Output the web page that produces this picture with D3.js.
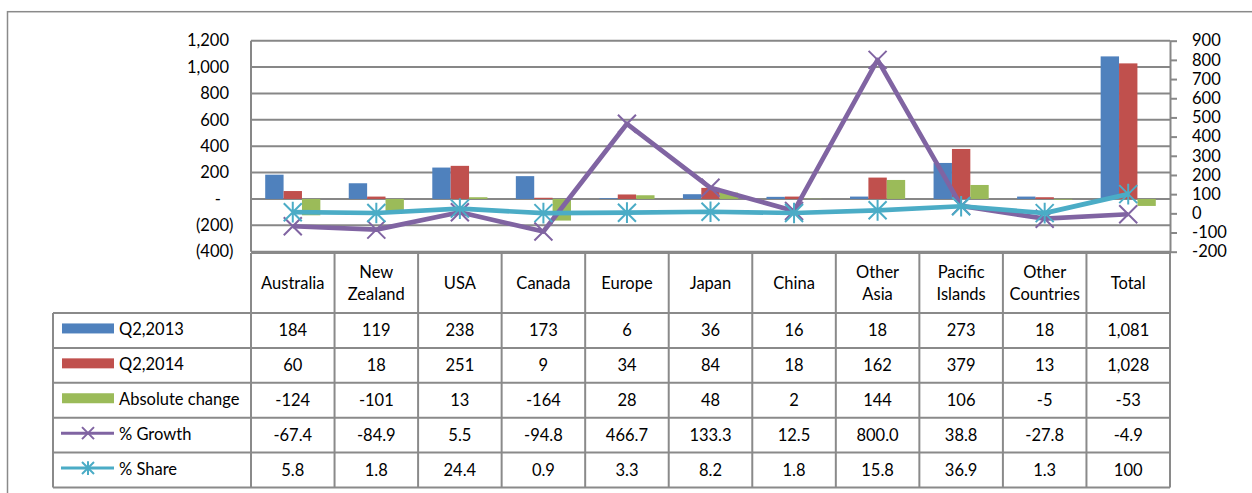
<!DOCTYPE html>
<html>
<head>
<meta charset="utf-8">
<script src="https://cdn.jsdelivr.net/npm/d3@7"></script>
<style>
  html, body { margin: 0; padding: 0; background: #fff; }
  svg { display: block; font-family: Lato, "Open Sans", sans-serif; }
</style>
</head>
<body>
<svg id="chart" width="1252" height="493"></svg>
<script>
// ---------------- DATA ----------------
const categories = ["Australia", "New Zealand", "USA", "Canada", "Europe", "Japan", "China",
                    "Other Asia", "Pacific Islands", "Other Countries", "Total"];
const q2013    = [184, 119, 238, 173, 6, 36, 16, 18, 273, 18, 1081];
const q2014    = [60, 18, 251, 9, 34, 84, 18, 162, 379, 13, 1028];
const absChange = [-124, -101, 13, -164, 28, 48, 2, 144, 106, -5, -53];
const growth   = [-67.4, -84.9, 5.5, -94.8, 466.7, 133.3, 12.5, 800.0, 38.8, -27.8, -4.9];
const share    = [5.8, 1.8, 24.4, 0.9, 3.3, 8.2, 1.8, 15.8, 36.9, 1.3, 100];
const seriesNames = ["Q2,2013", "Q2,2014", "Absolute change", "% Growth", "% Share"];
const leftTicks  = [-400, -200, 0, 200, 400, 600, 800, 1000, 1200];
const rightTicks = [-200, -100, 0, 100, 200, 300, 400, 500, 600, 700, 800, 900];

// ---------------- LAYOUT ----------------
const svg = d3.select("#chart");
const plot = { left: 251, right: 1170, top: 40.7, bottom: 251.7 };
const tbl = { legendLeft: 53, headTop: 253, headBottom: 313, rowH: 34.9 };
const colors = { q13: "#4F81BD", q14: "#C0504D", abs: "#9BBB59", growth: "#8064A2", share: "#4BACC6" };
const gridColor = "#878787";
const fontSize = 16.5;
const hy = s => s.replace(/\u2212/g, "-");

// outer frame
svg.append("rect").attr("x", 7.5).attr("y", 11.7).attr("width", 1300).attr("height", 600)
  .attr("fill", "none").attr("stroke", "#8a8a8a").attr("stroke-width", 1.5);

const x = d3.scaleBand().domain(categories).range([plot.left, plot.right]).padding(0);
const bw = x.bandwidth();
const gp = bw * 0.17;
const x1 = d3.scaleBand().domain(["q13", "q14", "abs"]).range([gp, bw - gp]).padding(0);
const yL = d3.scaleLinear().domain([-400, 1200]).range([plot.bottom, plot.top]);
const yR = d3.scaleLinear().domain([-200, 900]).range([plot.bottom, plot.top]);

// gridlines
svg.append("g").selectAll("line").data(leftTicks).join("line")
  .attr("x1", plot.left).attr("x2", plot.right)
  .attr("y1", d => yL(d)).attr("y2", d => yL(d))
  .attr("stroke", gridColor).attr("stroke-width", 2);
// plot left border
svg.append("line").attr("x1", plot.left).attr("x2", plot.left)
  .attr("y1", plot.top).attr("y2", plot.bottom)
  .attr("stroke", gridColor).attr("stroke-width", 2);

// left axis
const leftFmt = d => d === 0 ? "-" : d < 0 ? "(" + d3.format(",")(-d) + ")" : d3.format(",")(d);
const gL = svg.append("g").attr("transform", `translate(${plot.left},0)`)
  .call(d3.axisLeft(yL).tickValues(leftTicks).tickSize(0).tickPadding(22).tickFormat(leftFmt));
gL.select(".domain").remove();
gL.selectAll("text").attr("font-size", fontSize).attr("font-family", "Lato, sans-serif").attr("fill", "#000")
  .attr("dx", d => d < 0 ? 4.5 : d === 0 ? -8 : 0);

// right axis
const gR = svg.append("g").attr("transform", `translate(${plot.right},0)`)
  .call(d3.axisRight(yR).tickValues(rightTicks).tickSize(7).tickSizeOuter(0).tickPadding(15)
    .tickFormat(d => hy(d3.format("d")(d))));
gR.select(".domain").attr("stroke", gridColor).attr("stroke-width", 2);
gR.selectAll(".tick line").attr("stroke", gridColor).attr("stroke-width", 2);
gR.selectAll("text").attr("font-size", fontSize).attr("font-family", "Lato, sans-serif").attr("fill", "#000");

// bars
const barSeries = [
  { key: "q13", vals: q2013, color: colors.q13 },
  { key: "q14", vals: q2014, color: colors.q14 },
  { key: "abs", vals: absChange, color: colors.abs }
];
const gBars = svg.append("g");
barSeries.forEach(s => {
  gBars.selectAll(null).data(s.vals.map((v, i) => ({ v, c: categories[i] }))).join("rect")
    .attr("x", d => x(d.c) + x1(s.key))
    .attr("width", x1.bandwidth())
    .attr("y", d => Math.min(yL(d.v), yL(0)))
    .attr("height", d => Math.abs(yL(d.v) - yL(0)))
    .attr("fill", s.color);
});

// markers
const xMark = s => `M${-s},${-s}L${s},${s}M${-s},${s}L${s},${-s}`;
const starMark = s => `M${-s},${-s}L${s},${s}M${-s},${s}L${s},${-s}M0,${-s * 1.15}L0,${s * 1.15}`;

// lines
const lineGen = d3.line().x((d, i) => x(categories[i]) + bw / 2).y(d => yR(d));
const lineSeries = [
  { vals: growth, color: colors.growth, mark: xMark },
  { vals: share, color: colors.share, mark: starMark }
];
lineSeries.forEach(s => {
  const g = svg.append("g");
  g.append("path").datum(s.vals).attr("d", lineGen)
    .attr("fill", "none").attr("stroke", s.color).attr("stroke-width", 4.7).attr("stroke-linejoin", "round");
  g.selectAll(null).data(s.vals).join("path")
    .attr("transform", (d, i) => `translate(${x(categories[i]) + bw / 2},${yR(d)})`)
    .attr("d", s.mark(9)).attr("fill", "none").attr("stroke", s.color).attr("stroke-width", 2);
});

// ---------------- DATA TABLE ----------------
const gT = svg.append("g");
const borderColor = "#8a8a8a";
const rowTop = i => tbl.headBottom + i * tbl.rowH;
const tableBottom = rowTop(seriesNames.length);

function hline(x1_, x2_, y) {
  gT.append("line").attr("x1", x1_).attr("x2", x2_).attr("y1", y).attr("y2", y)
    .attr("stroke", borderColor).attr("stroke-width", 2);
}
function vline(xx, y1, y2) {
  gT.append("line").attr("x1", xx).attr("x2", xx).attr("y1", y1).attr("y2", y2)
    .attr("stroke", borderColor).attr("stroke-width", 2);
}
// header borders
hline(plot.left, plot.right, tbl.headTop);
categories.forEach(c => vline(x(c), tbl.headTop, tableBottom));
vline(plot.right, tbl.headTop, tableBottom);
vline(tbl.legendLeft, tbl.headBottom, tableBottom);
for (let i = 0; i <= seriesNames.length; i++) hline(tbl.legendLeft, plot.right, rowTop(i));

// header text
categories.forEach(c => {
  const words = c.split(" ");
  const cy = (tbl.headTop + tbl.headBottom) / 2;
  const t = gT.append("text").attr("x", x(c) + bw / 2).attr("text-anchor", "middle")
    .attr("font-size", fontSize).attr("fill", "#000");
  words.forEach((w, k) => {
    t.append("tspan").attr("x", x(c) + bw / 2)
      .attr("y", cy + (k - (words.length - 1) / 2) * 22.5)
      .attr("dy", "0.35em").text(w);
  });
});

// rows
const fmtInt = d3.format(",");
const rows = [
  { vals: q2013, fmt: fmtInt },
  { vals: q2014, fmt: fmtInt },
  { vals: absChange, fmt: d => String(d) },
  { vals: growth, fmt: d => hy(d3.format(".1f")(d)) },
  { vals: share, fmt: d => Number.isInteger(d) ? String(d) : d3.format(".1f")(d) }
];
rows.forEach((r, i) => {
  const cy = rowTop(i) + tbl.rowH / 2;
  r.vals.forEach((v, j) => {
    gT.append("text").attr("x", x(categories[j]) + bw / 2).attr("y", cy).attr("dy", "0.35em")
      .attr("text-anchor", "middle").attr("font-size", fontSize).attr("fill", "#000")
      .text(r.fmt(v));
  });
  // legend label
  gT.append("text").attr("x", 119).attr("y", cy - 1).attr("dy", "0.35em")
    .attr("font-size", fontSize).attr("fill", "#000").text(seriesNames[i]);
});

// legend keys
const keyX0 = 62, keyX1 = 114;
[colors.q13, colors.q14, colors.abs].forEach((c, i) => {
  const cy = rowTop(i) + tbl.rowH / 2 - 2;
  gT.append("rect").attr("x", keyX0).attr("y", cy - 5).attr("width", keyX1 - keyX0).attr("height", 10).attr("fill", c);
});
lineSeries.forEach((s, k) => {
  const cy = rowTop(3 + k) + tbl.rowH / 2 - 2;
  gT.append("line").attr("x1", keyX0 - 1).attr("x2", keyX1).attr("y1", cy).attr("y2", cy)
    .attr("stroke", s.color).attr("stroke-width", 3);
  gT.append("path").attr("transform", `translate(${(keyX0 + keyX1) / 2},${cy})`)
    .attr("d", s.mark(6)).attr("fill", "none").attr("stroke", s.color).attr("stroke-width", 2);
});
</script>
</body>
</html>
